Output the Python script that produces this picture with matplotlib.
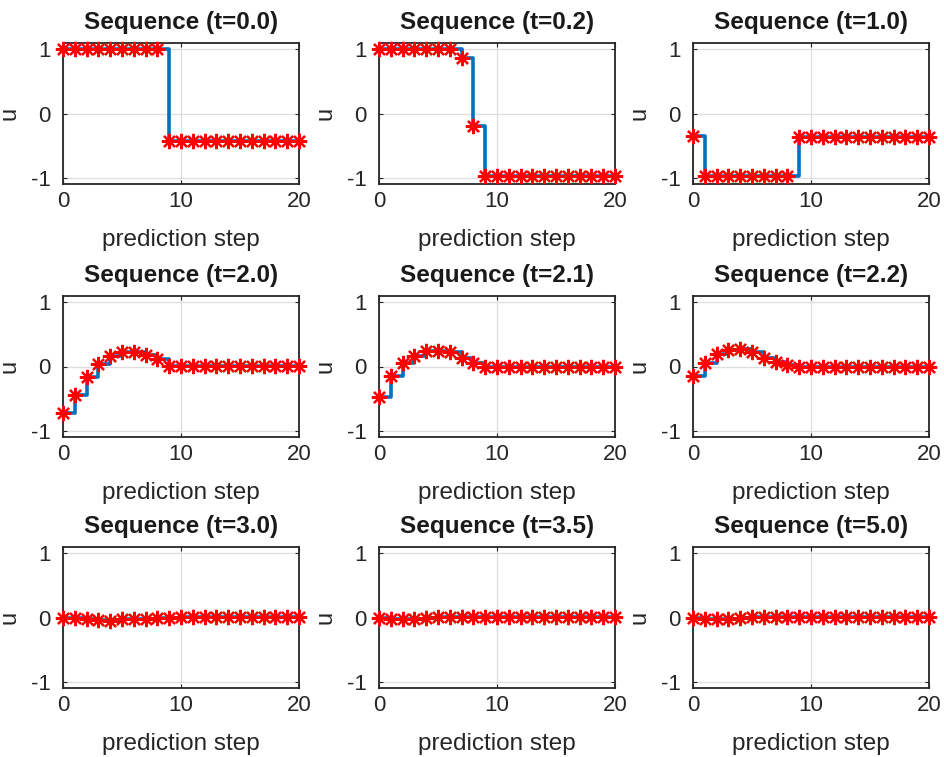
import numpy as np
import matplotlib
matplotlib.use('Agg')
import matplotlib.pyplot as plt

plt.rcParams['font.family'] = ['Liberation Sans', 'DejaVu Sans']
plt.rcParams['axes.unicode_minus'] = False

# prediction steps
steps = list(range(21))

# control sequences, one per sample time
times = ['0.0', '0.2', '1.0', '2.0', '2.1', '2.2', '3.0', '3.5', '5.0']
u_t00 = [1.0] * 9 + [-0.43] * 12
u_t02 = [1.0] * 7 + [0.86, -0.19] + [-0.98] * 12
u_t10 = [-0.35] + [-0.98] * 8 + [-0.37] * 12
u_t20 = [-0.73, -0.45, -0.17, 0.04, 0.17, 0.23, 0.23, 0.18, 0.11] + [0.01] * 12
u_t21 = [-0.47, -0.15, 0.06, 0.17, 0.24, 0.24, 0.22, 0.14, 0.05] + [0.0] * 12
u_t22 = [-0.15, 0.06, 0.19, 0.26, 0.27, 0.22, 0.14, 0.07, 0.02] + [0.0] * 12
u_t30 = [0.0, -0.01, -0.02, -0.04, -0.05, -0.03, -0.02, -0.02, -0.01, 0.0] + [0.01] * 11
u_t35 = [-0.01, -0.02, -0.02, -0.02, 0.0] + [0.01] * 16
u_t50 = [-0.01, -0.02, -0.02, -0.02, 0.0] + [0.01] * 16
sequences = [u_t00, u_t02, u_t10, u_t20, u_t21, u_t22, u_t30, u_t35, u_t50]

W, H = 944, 757
fig = plt.figure(figsize=(W / 100, H / 100), dpi=100)

lefts = [63, 379, 693]
bottoms = [184, 437, 688]
aw, ah = 236, 141
axcol = '#262626'

for i, (t, u) in enumerate(zip(times, sequences)):
    r, c = divmod(i, 3)
    ax = fig.add_axes([lefts[c] / W, 1 - bottoms[r] / H, aw / W, ah / H])
    ax.step(steps, u, where='post', color='#0072BD', lw=2.6, zorder=2)
    ax.plot(steps, u, ls='none', marker=(8, 2, 0), ms=11, mew=1.6,
            color='red', zorder=3, clip_on=False)
    ax.set_xlim(0, 20)
    ax.set_ylim(-1.1, 1.1)
    ax.set_xticks([0, 10, 20])
    ax.set_yticks([-1, 0, 1])
    ax.grid(True, color='#dedede', lw=0.9)
    ax.set_axisbelow(True)
    ax.tick_params(direction='in', length=3, width=0.8, colors=axcol,
                   labelsize=16, top=True, right=True,
                   labeltop=False, labelright=False)
    ax.tick_params(axis='y', pad=9)
    ax.tick_params(axis='x', pad=5)
    for s in ax.spines.values():
        s.set_color(axcol)
        s.set_linewidth(1.3)
    ax.set_title(f'Sequence (t={t})', fontsize=17.5, fontweight='bold',
                 color='#1a1a1a', pad=10)
    ax.set_xlabel('prediction step', fontsize=17.5, color=axcol, labelpad=12)
    ax.set_ylabel('u', fontsize=17, color=axcol)
    ax.yaxis.set_label_coords(-0.18, 0.5)

fig.savefig('out.png', dpi=100, facecolor='white')
